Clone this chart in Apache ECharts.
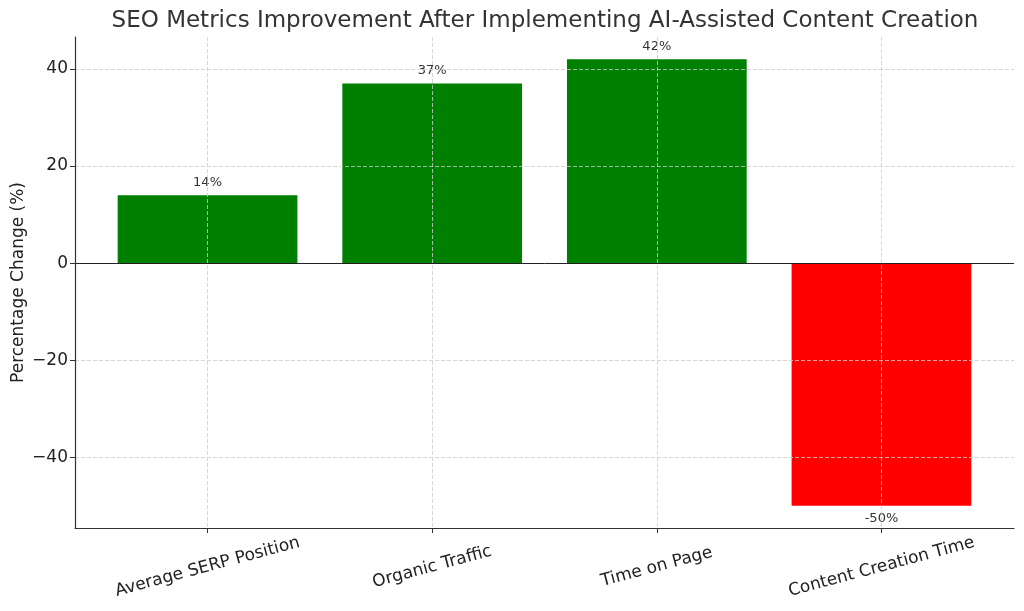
<!DOCTYPE html>
<html>
<head>
<meta charset="utf-8">
<script src="https://cdn.jsdelivr.net/npm/echarts@6/dist/echarts.min.js"></script>
<style>
  html, body { margin: 0; padding: 0; background: #fff; }
  #chart { width: 1024px; height: 611px; }
</style>
</head>
<body>
<div id="chart"></div>
<script>
// data
const categories = ['Average SERP Position', 'Organic Traffic', 'Time on Page', 'Content Creation Time']
const changes = [14, 37, 42, -50]
const yTicks = [-40, -20, 0, 20, 40]
const xTicks = [0, 1, 2, 3]

const font = 'DejaVu Sans'
const chart = echarts.init(document.getElementById('chart'))

const minus = v => String(v).replace('-', '\u2212')

const option = {
  animation: false,
  textStyle: { fontFamily: font },
  title: {
    text: 'SEO Metrics Improvement After Implementing AI-Assisted Content Creation',
    left: 540, top: 5, textAlign: 'center',
    textStyle: { fontFamily: font, fontSize: 23, fontWeight: 'normal', color: '#333' }
  },
  grid: { left: 75, right: 10, top: 37, bottom: 83, outerBoundsMode: 'none', containLabel: false },
  xAxis: {
    type: 'value',
    min: -0.59, max: 3.59,
    z: 5,
    axisLine: { show: true, onZero: false, lineStyle: { color: '#333', width: 1.2 } },
    axisTick: { show: true, customValues: xTicks, length: 5, lineStyle: { color: '#333' } },
    axisLabel: {
      customValues: xTicks,
      rotate: 15, align: 'center', verticalAlign: 'middle', margin: 39,
      fontSize: 17, color: '#222', fontFamily: font,
      formatter: v => Number.isInteger(v) ? (categories[v] || '') : ''
    },
    splitLine: { show: true, lineStyle: { color: '#ccc', type: [4, 2], width: 0.8 } }
  },
  yAxis: {
    type: 'value',
    min: -54.6, max: 46.6,
    z: 5,
    name: 'Percentage Change (%)',
    nameLocation: 'middle', nameGap: 48, nameMoveOverlap: false,
    nameTextStyle: { fontSize: 17, color: '#222', fontFamily: font },
    axisLine: { show: true, onZero: false, lineStyle: { color: '#333', width: 1.2 } },
    axisTick: { show: true, customValues: yTicks, length: 5, lineStyle: { color: '#333' } },
    axisLabel: {
      customValues: yTicks,
      fontSize: 17, color: '#222', fontFamily: font, margin: 7,
      formatter: v => yTicks.includes(v) ? minus(v) : ''
    },
    splitLine: { show: true, lineStyle: { color: '#ccc', type: [4, 2], width: 0.8 } }
  },
  series: [{
    type: 'bar',
    barWidth: '80%',
    data: changes.map((v, i) => ({
      value: [i, v],
      itemStyle: { color: v >= 0 ? '#008000' : '#ff0000' },
      label: { position: v >= 0 ? 'top' : 'bottom' }
    })),
    label: {
      show: true, distance: 6,
      fontSize: 13, color: '#333', fontFamily: font,
      formatter: p => p.value[1] + '%'
    },
    markLine: {
      silent: true, symbol: 'none', label: { show: false },
      lineStyle: { color: '#222', type: 'solid', width: 1 },
      data: [{ yAxis: 0 }]
    }
  }]
}

chart.setOption(option)
</script>
</body>
</html>
